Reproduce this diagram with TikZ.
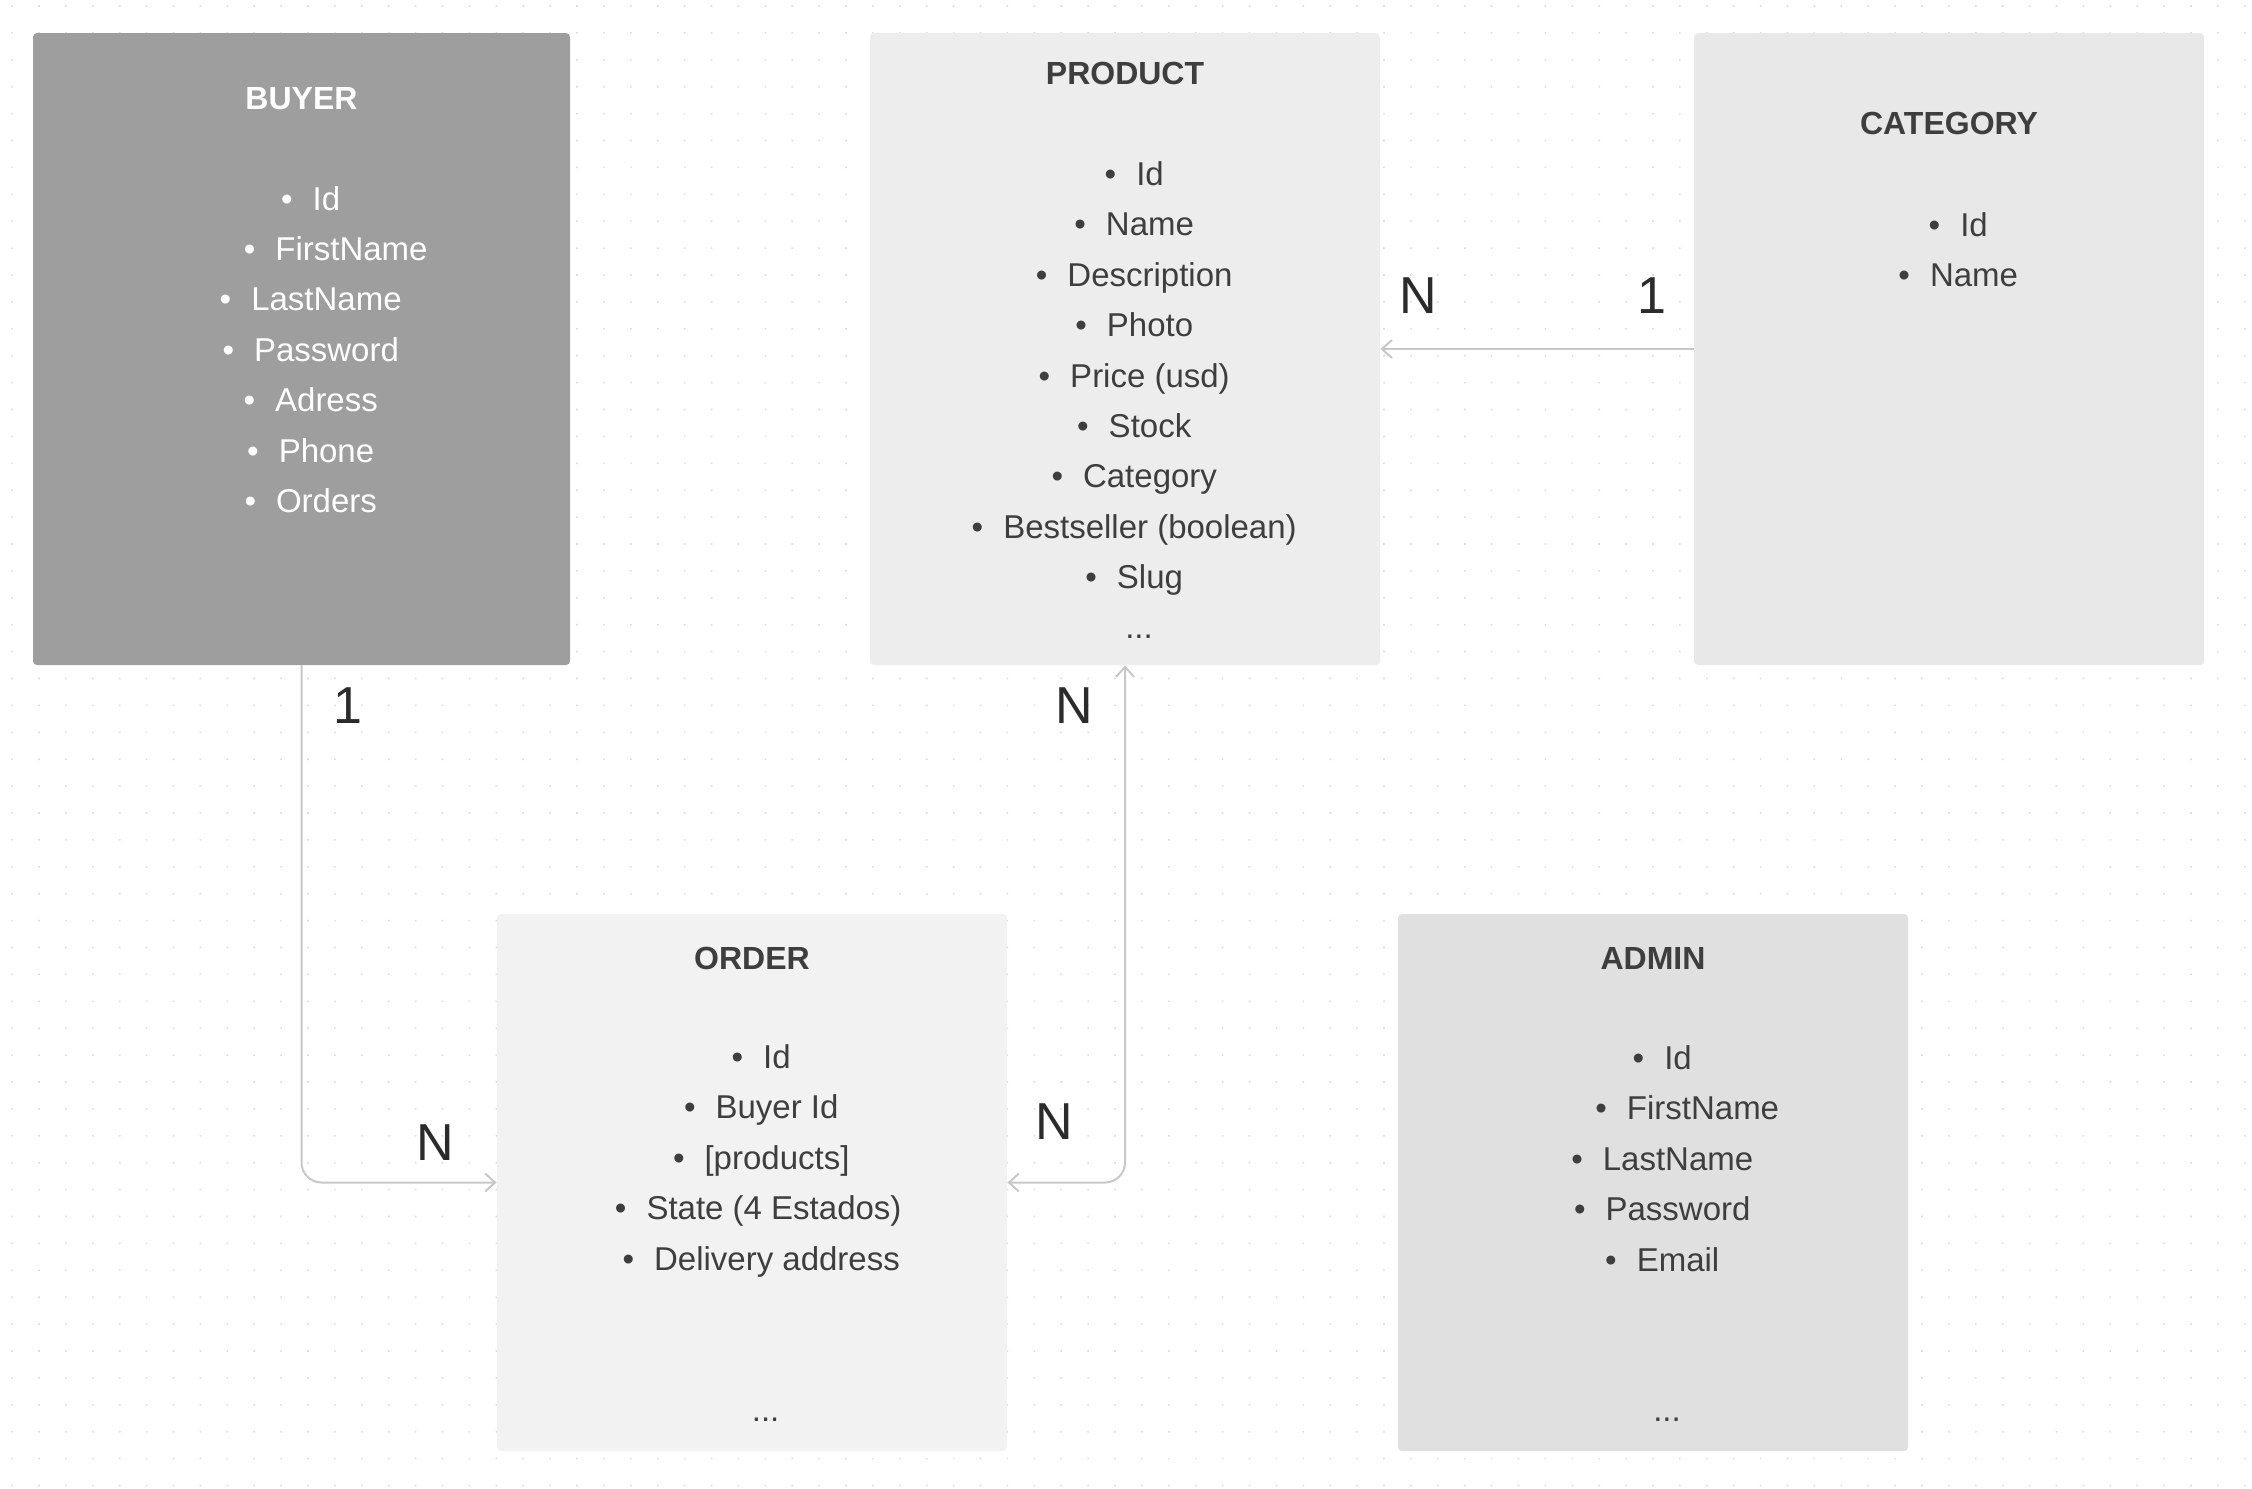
\documentclass[tikz,border=0pt]{standalone}
\usepackage{fontspec}
\setmainfont{Liberation Sans}
\usetikzlibrary{arrows.meta}
\definecolor{buyerc}{HTML}{9E9E9E}
\definecolor{productc}{HTML}{EDEDED}
\definecolor{categoryc}{HTML}{E8E8E8}
\definecolor{orderc}{HTML}{F2F2F2}
\definecolor{adminc}{HTML}{E0E0E0}
\definecolor{txtc}{HTML}{3E3E3E}
\definecolor{labc}{HTML}{2B2B2B}
\definecolor{connc}{HTML}{C8C8C8}
\definecolor{dotc}{HTML}{DEDEDE}
\newcommand{\li}[4]{\node[itm] (#1) at (#2,#3) {\makebox[0pt][r]{\textbullet\hspace{10pt}}#4};}
\begin{document}
\begin{tikzpicture}[x=0.5pt,y=-0.5pt,
  box/.style={rectangle, rounded corners=2pt, inner sep=0pt, draw=none},
  itmcol/.style={text=txtc},
  ttl/.style={font=\bfseries\fontsize{16}{19}\selectfont, anchor=base, inner sep=0pt, itmcol},
  itm/.style={font=\fontsize{16.5}{20}\selectfont, anchor=base, inner sep=0pt, itmcol},
  dots/.style={font=\fontsize{16.5}{20}\selectfont, anchor=base, inner sep=0pt, itmcol},
  card/.style={font=\fontsize{26}{30}\selectfont, text=labc, inner sep=0pt},
  conn/.style={draw=connc, line width=1pt, rounded corners=10pt},
  >={Straight Barb[length=5pt,width=9pt]}]
\useasboundingbox (0,0) rectangle (2252,1488);
\fill[white] (0,0) rectangle (2252,1488);
% dot grid
\foreach \i in {0,...,83}{
  \fill[dotc] \foreach \j in {0,...,55}{(11.3+26.9*\i, 5.2+26.9*\j) rectangle ++(1.6,1.6)};
}

% boxes
\node[box, fill=buyerc, minimum width=268.5pt, minimum height=316pt] (buyer) at (301.5,349) {};
\node[box, fill=productc, minimum width=255pt, minimum height=316pt] (product) at (1125,349) {};
\node[box, fill=categoryc, minimum width=255pt, minimum height=316pt] (category) at (1949,349) {};
\node[box, fill=orderc, minimum width=255pt, minimum height=268.5pt] (order) at (752,1182.5) {};
\node[box, fill=adminc, minimum width=255pt, minimum height=268.5pt] (admin) at (1653,1182.5) {};

% BUYER
\begin{scope}[itmcol/.style={text=white}]
\node[ttl] (buyert) at (301.5,109.5) {BUYER};
\li{b1}{326.5}{210}{Id}
\li{b2}{351.5}{260.4}{FirstName}
\li{b3}{326.5}{310.8}{LastName}
\li{b4}{326.5}{361.2}{Password}
\li{b5}{326.5}{411.6}{Adress}
\li{b6}{326.5}{462}{Phone}
\li{b7}{326.5}{512.4}{Orders}
\end{scope}

% PRODUCT
\node[ttl] (productt) at (1125,84.5) {PRODUCT};
\li{p1}{1150}{185.5}{Id}
\li{p2}{1150}{235.9}{Name}
\li{p3}{1150}{286.3}{Description}
\li{p4}{1150}{336.7}{Photo}
\li{p5}{1150}{387.1}{Price (usd)}
\li{p6}{1150}{437.5}{Stock}
\li{p7}{1150}{487.9}{Category}
\li{p8}{1150}{538.3}{Bestseller (boolean)}
\li{p9}{1150}{588.7}{Slug}
\node[dots] (p10) at (1139,638) {...};

% CATEGORY
\node[ttl] (categoryt) at (1949,134.5) {CATEGORY};
\li{c1}{1974}{236}{Id}
\li{c2}{1974}{286.4}{Name}

% ORDER
\node[ttl] (ordert) at (752,969) {ORDER};
\li{o1}{777}{1068.5}{Id}
\li{o2}{777}{1118.9}{Buyer Id}
\li{o3}{777}{1169.3}{[products]}
\li{o4}{774}{1219.7}{State (4 Estados)}
\li{o5}{777}{1270.1}{Delivery address}
\node[dots] (o6) at (765.6,1421.5) {...};

% ADMIN
\node[ttl] (admint) at (1653,969) {ADMIN};
\li{a1}{1678}{1069.5}{Id}
\li{a2}{1703}{1119.9}{FirstName}
\li{a3}{1678}{1170.3}{LastName}
\li{a4}{1678}{1220.7}{Password}
\li{a5}{1678}{1271.1}{Email}
\node[dots] (a6) at (1667,1421.5) {...};

% connectors
\draw[conn,->] (category.west) -- (product.east);
\draw[conn,->] (buyer.south) |- (order.west);
\draw[conn,<->] (order.east) -| (product.south);

% cardinality labels
\node[card] (l1) at (1418,296) {N};
\node[card] (l2) at (1652,296) {1};
\node[card] (l3) at (347.6,706) {1};
\node[card] (l4) at (435.5,1143) {N};
\node[card] (l5) at (1074,706) {N};
\node[card] (l6) at (1054,1122) {N};
\end{tikzpicture}
\end{document}
